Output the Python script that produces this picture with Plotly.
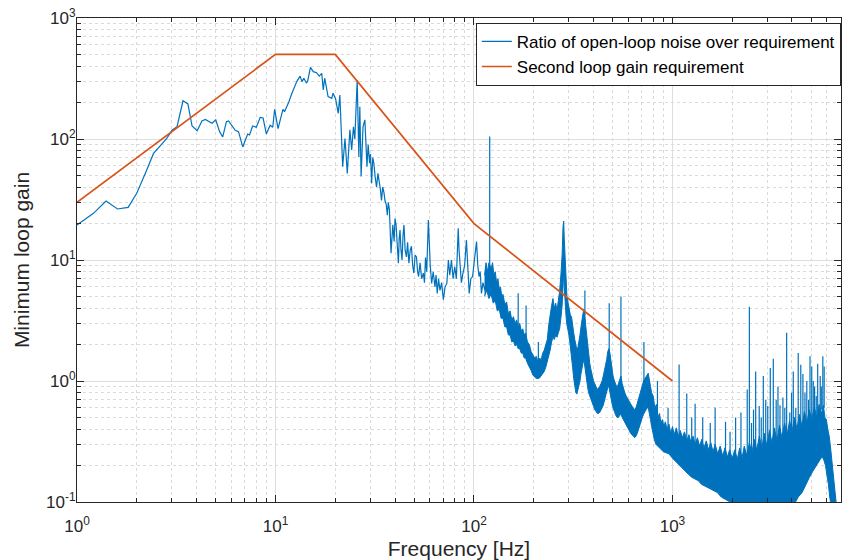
import plotly.graph_objects as go

# ---------------- data ----------------
# low-frequency part of the measured ratio (Hz, gain)
line_f = [1.0, 1.21, 1.40, 1.60, 1.81, 2.0, 2.21, 2.43, 2.82, 3.01, 3.19, 3.42, 3.62, 3.80,
          4.03, 4.26, 4.43, 4.79, 5.0, 5.23, 5.42, 5.66, 5.8, 6.27, 6.51, 6.84, 7.24, 7.4,
          7.67, 8.0, 8.38, 8.66, 8.99, 9.4, 9.69, 9.9, 10.3, 10.9, 11.1, 11.6, 12.1, 12.8,
          13.3, 13.6, 13.9, 14.3, 14.5, 15.0, 15.5, 16.1, 16.6, 17.1, 17.4, 17.7, 18.4,
          19.2, 19.5, 20.1, 20.7, 21.1, 21.8, 22.4, 23.0, 23.7, 24.2, 24.7, 25.1, 25.8,
          26.3, 26.6, 27.0, 27.6, 28.2, 28.9, 29.3, 29.8, 30.1, 30.5, 30.9, 31.3, 31.8,
          32.3, 32.8, 33.3, 33.8, 34.2, 34.7, 35.2, 35.6, 36.1, 36.6, 37.0, 37.5, 38.2,
          38.6, 39.0, 39.6, 40.0, 40.5, 41.0, 41.6, 42.0, 42.4, 42.9, 43.4, 43.9, 44.4,
          45.0, 45.7, 46.3, 47.0, 47.7, 48.4, 49.1, 49.8, 50.5, 51.3, 52.0, 52.6, 53.5,
          54.5, 55.6, 56.3, 57.0, 57.8, 58.9, 59.4, 60.2, 61.2, 62.3, 63.6, 64.4, 65.3,
          66.3, 67.4, 68.7, 70.1, 71.5, 73.0, 73.6, 74.3, 75.5, 77.0, 78.5, 80.0, 81.5,
          83.3, 84.1, 84.9, 86.4, 88.0, 89.7, 91.6, 92.9, 94.6, 96.4, 98.4, 100.5, 103.0,
          104.5, 106.0, 107.5, 109.0, 111.0, 113.5, 116.0]
line_v = [19.5, 24.3, 30.7, 26.4, 27.2, 35.6, 52, 76, 100, 118, 126, 207, 195, 128,
          117, 141, 145, 135, 144, 115, 104, 139, 141, 118, 115, 86, 110, 108,
          128, 125, 151, 149, 110, 130, 125, 176, 122, 176, 168, 197, 239, 298,
          331, 298, 318, 292, 298, 391, 360, 353, 331, 349, 254, 318, 224,
          217, 239, 213, 163, 231, 59, 101, 52, 119, 81, 126, 100, 307,
          71, 185, 49, 126, 144, 59, 90, 63, 75, 43, 70, 63, 48,
          40, 52, 46, 38, 31, 40, 36, 31, 29, 23.5, 30, 26, 11.4,
          17, 19.5, 14.2, 22, 19.5, 13, 9.4, 15, 17.7, 12, 10, 16, 19.5,
          12, 10.6, 14, 9.4, 12, 13, 9, 7.8, 11, 10.6, 8, 7.3, 9.5,
          7, 7.8, 6.5, 10.5, 8, 21.4, 13, 9, 6.4, 8, 6.0, 7.5, 5.3,
          7, 5.6, 6.5, 4.7, 6, 6.4, 8, 10, 7.5, 10, 7, 8.8, 7,
          18.3, 12, 10, 6.5, 7.8, 9, 14.6, 8, 5.3, 7, 7.3, 10, 14.2,
          9, 7.3, 8, 5.3, 6.5, 5.6, 7.5]

# dense high-frequency part: upper edge of the trace
up_f = [113, 115, 117, 119, 122, 124, 126, 128, 130, 132, 134, 136, 138, 140, 143, 146, 149,
        152, 155, 158, 161, 164, 167, 170, 173, 176, 179, 182, 186, 190, 194, 198, 202, 206,
        210, 214, 218, 222, 226, 230, 234, 238, 242, 246, 250, 254, 258, 262, 266, 270, 274,
        278, 281, 283, 285, 288, 291, 294, 298, 302, 306, 310, 314, 318, 322, 326, 330, 334,
        338, 342, 346, 350, 354, 358, 362, 366, 370, 374, 378, 383, 388, 394, 400, 406, 412,
        418, 424, 430, 436, 442, 448, 454, 460, 466, 472, 478, 484, 490, 496, 502, 510, 518,
        526, 534, 542, 550, 558, 566, 575, 585, 595, 605, 615, 625, 635, 645, 655, 665, 675,
        685, 695, 705, 715, 725, 735, 745, 755, 765, 775, 785, 800, 815, 830, 845, 860, 875,
        890, 905, 920, 940, 960, 980, 1000, 1020, 1045, 1070, 1095, 1120, 1150, 1180, 1210,
        1240, 1270, 1300, 1335, 1370, 1405, 1440, 1480, 1520, 1560, 1600, 1640, 1690, 1740,
        1790, 1840, 1890, 1940, 2000, 2060, 2120, 2180, 2240, 2300, 2370, 2440, 2510, 2580,
        2660, 2740, 2820, 2900, 2990, 3080, 3170, 3260, 3360, 3460, 3560, 3670, 3780, 3890,
        4000, 4120, 4240, 4360, 4490, 4620, 4750, 4890, 5030, 5180, 5330, 5480, 5640, 5760,
        5860, 5960, 6060, 6160, 6260, 6360, 6460, 6560, 6660, 6760, 6820]
up_v = [7.5, 9.5, 8, 9.5, 8.5, 9.5, 7.5, 8, 6.5, 7, 5.8, 6, 5, 5.2, 4.3, 4.5, 3.6,
        3.8, 3.2, 3.4, 3.0, 3.2, 2.8, 3.0, 2.6, 2.7, 2.4, 2.5, 2.1, 2.0, 1.75, 1.65, 1.55, 1.6,
        1.45, 1.55, 1.5, 1.7, 1.8, 2.0, 2.2, 2.9, 3.6, 4.2, 4.8, 4.0, 4.4, 3.8, 4.6, 5.5, 7.5,
        11, 19, 21, 15, 9, 6.5, 5, 4.4, 4.0, 3.5, 3.4, 2.8, 2.5, 2.2, 1.9, 1.8, 1.9,
        2.1, 2.4, 2.8, 3.3, 3.6, 3.9, 3.5, 2.8, 2.3, 1.9, 1.6, 1.4, 1.25, 1.1, 1.0, 0.95, 0.9,
        0.85, 0.88, 0.9, 0.95, 1.0, 1.1, 1.2, 1.35, 1.5, 1.75, 1.85, 1.7, 1.4, 1.25, 1.1, 1.0, 0.92,
        0.88, 0.95, 1.05, 1.1, 0.95, 0.85, 0.8, 0.75, 0.72, 0.68, 0.65, 0.62, 0.6, 0.58, 0.6, 0.65, 0.7,
        0.78, 0.85, 0.92, 1.0, 1.05, 1.1, 1.12, 1.16, 1.05, 0.9, 0.8, 0.75, 0.6, 0.64, 0.5, 0.54, 0.45,
        0.48, 0.42, 0.46, 0.4, 0.44, 0.37, 0.42, 0.36, 0.41, 0.35, 0.39, 0.34, 0.38, 0.32, 0.36,
        0.31, 0.35, 0.3, 0.34, 0.29, 0.33, 0.28, 0.32, 0.27, 0.31, 0.26, 0.3, 0.25, 0.29,
        0.24, 0.28, 0.235, 0.27, 0.23, 0.27, 0.225, 0.28, 0.23, 0.29, 0.24, 0.31, 0.25, 0.33,
        0.27, 0.35, 0.28, 0.37, 0.29, 0.39, 0.31, 0.41, 0.32, 0.43, 0.34, 0.45, 0.36, 0.47,
        0.38, 0.5, 0.4, 0.53, 0.42, 0.56, 0.45, 0.58, 0.48, 0.61, 0.51, 0.64, 0.54, 0.63,
        0.5, 0.48, 0.4, 0.35, 0.28, 0.22, 0.17, 0.14, 0.11, 0.09, 0.07]

# dense high-frequency part: lower edge of the trace
low_f = [113, 116, 119, 122, 125, 128, 131, 134, 137, 140, 143, 146, 149, 152, 155, 158, 161,
         164, 167, 170, 173, 176, 179, 182, 186, 190, 194, 198, 202, 206, 210, 214, 218, 222,
         226, 230, 234, 238, 242, 246, 250, 254, 258, 262, 266, 270, 274, 278, 281, 283, 285,
         288, 291, 294, 298, 302, 306, 310, 314, 318, 322, 326, 330, 334, 338, 342, 346, 350,
         354, 358, 362, 366, 370, 374, 378, 383, 388, 394, 400, 406, 412, 418, 424, 430, 436,
         442, 448, 454, 460, 466, 472, 478, 484, 490, 496, 502, 510, 518, 526, 534, 542, 550,
         558, 566, 575, 585, 595, 605, 615, 625, 635, 645, 655, 665, 675, 685, 695, 705, 715,
         725, 735, 745, 755, 765, 775, 785, 795, 810, 825, 840, 860, 880, 900, 930, 960, 1000,
         1040, 1080, 1120, 1160, 1200, 1250, 1300, 1350, 1400, 1460, 1520, 1600, 1680, 1760,
         1850, 1950, 2050, 2200, 2400, 2600, 2800, 3000, 3300, 3600, 3900, 4100, 4300, 4500,
         4700, 4900, 5100, 5300, 5450, 5600, 5700, 5800, 5900, 6000, 6100, 6200, 6300, 6450,
         6650, 6820]
low_v = [5.0, 5.6, 4.8, 5.2, 4.4, 4.6, 3.8, 3.9, 3.3, 3.3, 2.8, 2.8, 2.4, 2.4, 2.1, 2.15, 1.95,
         2.0, 1.85, 1.85, 1.7, 1.7, 1.55, 1.55, 1.4, 1.3, 1.22, 1.12, 1.08, 1.05, 1.05, 1.06, 1.1, 1.15,
         1.2, 1.3, 1.45, 1.6, 1.8, 2.1, 2.3, 2.2, 2.4, 2.3, 2.5, 2.7, 3.3, 4.2, 6, 8, 6,
         4.2, 3.4, 2.9, 2.6, 2.3, 1.9, 1.6, 1.3, 1.05, 0.9, 0.8, 0.78, 0.82, 0.9, 1.0, 1.15, 1.3,
         1.4, 1.5, 1.4, 1.2, 1.0, 0.88, 0.8, 0.74, 0.7, 0.66, 0.62, 0.58, 0.56, 0.54, 0.54, 0.55, 0.57,
         0.6, 0.63, 0.68, 0.73, 0.8, 0.88, 0.9, 0.82, 0.72, 0.65, 0.6, 0.55, 0.52, 0.5, 0.5, 0.52, 0.53,
         0.5, 0.47, 0.45, 0.43, 0.41, 0.39, 0.37, 0.36, 0.35, 0.34, 0.35, 0.37, 0.4, 0.43, 0.46, 0.5, 0.53,
         0.56, 0.58, 0.6, 0.6, 0.55, 0.48, 0.42, 0.37, 0.33, 0.3, 0.29, 0.28, 0.27, 0.26, 0.255, 0.25, 0.23,
         0.215, 0.2, 0.19, 0.18, 0.17, 0.16, 0.155, 0.15, 0.14, 0.135, 0.13, 0.125, 0.12, 0.11,
         0.105, 0.1, 0.095, 0.09, 0.085, 0.085, 0.085, 0.085, 0.085, 0.085, 0.088, 0.095, 0.11, 0.12,
         0.14, 0.16, 0.18, 0.2, 0.215, 0.23, 0.235, 0.22, 0.2, 0.17, 0.14, 0.11, 0.09, 0.07,
         0.055, 0.05]

# narrow spectral lines: frequency, level at their foot, peak level
spike_f = [120, 167, 183, 211, 362, 480, 550, 718, 840, 950, 1080, 1180, 1250, 1300, 1420,
           1550, 1640, 1850, 1950, 2080, 2213, 2380, 2440, 2500, 2560, 2625, 2735, 2800,
           2868, 2950, 3020, 3110, 3220, 3330, 3400, 3480, 3600, 3680, 3760, 3900, 3980,
           4060, 4180, 4300, 4430, 4540, 4650, 4750, 4850, 4930, 5030, 5120, 5200, 5300,
           5390, 5550, 5620, 5720, 5810]
spike_base = [8, 2.8, 2.3, 1.45, 3.5, 1.6, 1.0, 0.85, 0.45, 0.4, 0.34, 0.32, 0.3, 0.3, 0.28,
              0.26, 0.26, 0.24, 0.23, 0.23, 0.23, 0.24, 0.25, 0.26, 0.27, 0.27, 0.28, 0.29,
              0.29, 0.3, 0.3, 0.31, 0.32, 0.33, 0.33, 0.34, 0.35, 0.36, 0.37, 0.38, 0.39,
              0.4, 0.41, 0.42, 0.43, 0.44, 0.45, 0.46, 0.48, 0.49, 0.5, 0.51, 0.52, 0.53,
              0.55, 0.57, 0.58, 0.59, 0.6]
spike_top = [105, 5.3, 4.2, 2.1, 5.6, 4.4, 5.0, 2.1, 1.0, 0.6, 1.37, 0.79, 0.5, 0.65, 0.5,
             0.45, 0.6, 0.46, 0.38, 0.5, 0.55, 0.85, 4.1, 0.45, 0.58, 1.2, 0.62, 0.5,
             1.1, 0.7, 0.62, 1.28, 1.53, 0.7, 0.9, 0.63, 0.73, 0.6, 2.5, 0.55, 0.8,
             1.2, 0.6, 1.7, 1.36, 1.14, 0.8, 1.0, 0.7, 1.6, 1.32, 1.0, 0.9, 0.75,
             1.39, 1.1, 0.9, 1.6, 1.32]

# second loop-gain requirement (piecewise straight in log-log)
req_f = [1, 10, 20, 100, 1000]
req_v = [30, 500, 500, 20, 1]

x_tickvals = [1, 10, 100, 1000]
x_ticktext = ["10<sup>0</sup>", "10<sup>1</sup>", "10<sup>2</sup>", "10<sup>3</sup>"]
y_tickvals = [0.1, 1, 10, 100, 1000]
y_ticktext = ["10<sup>-1</sup>", "10<sup>0</sup>", "10<sup>1</sup>", "10<sup>2</sup>", "10<sup>3</sup>"]

BLUE = "#0072BD"
ORANGE = "#D95319"
AXC = "#262626"
FONT = "Liberation Sans"

# ---------------- figure ----------------
fig = go.Figure()

# filled band of the dense spectrum
fig.add_trace(go.Scatter(
    x=up_f + low_f[::-1], y=up_v + low_v[::-1],
    mode="lines", fill="toself", fillcolor=BLUE,
    line=dict(color=BLUE, width=1), showlegend=False, hoverinfo="skip"))

# spectral lines
sx, sy = [], []
for f, b, t in zip(spike_f, spike_base, spike_top):
    sx += [f, f, None]
    sy += [b, t, None]
fig.add_trace(go.Scatter(x=sx, y=sy, mode="lines", line=dict(color=BLUE, width=1.2),
                         showlegend=False, hoverinfo="skip"))

fig.add_trace(go.Scatter(x=line_f, y=line_v, mode="lines",
                         line=dict(color=BLUE, width=1.2),
                         name="Ratio of open-loop noise over requirement"))

fig.add_trace(go.Scatter(x=req_f, y=req_v, mode="lines",
                         line=dict(color=ORANGE, width=1.7),
                         name="Second loop gain requirement"))

x_minor = [m * 10 ** e for e in range(0, 4) for m in range(2, 10)]
y_minor = [m * 10.0 ** e for e in range(-1, 3) for m in range(2, 10)]

common = dict(
    showline=True, linecolor=AXC, linewidth=1, mirror="ticks",
    ticks="inside", ticklen=7, tickwidth=1, tickcolor=AXC,
    showgrid=True, gridcolor="#dedede", gridwidth=1, zeroline=False,
    tickfont=dict(family=FONT, size=17, color=AXC), automargin=False,
    ticklabeloverflow="allow",
)

fig.update_xaxes(
    type="log", range=[0, 3.849], tickmode="array",
    tickvals=x_tickvals, ticktext=x_ticktext,
    minor=dict(tickmode="array", tickvals=x_minor, ticks="inside", ticklen=4,
               tickcolor=AXC, showgrid=True, gridcolor="#dadada", griddash="dot"),
    title=dict(text="Frequency [Hz]", font=dict(family=FONT, size=21, color=AXC), standoff=6),
    ticklabelstandoff=9,
    **common)
fig.update_yaxes(
    type="log", range=[-1, 3], tickmode="array",
    tickvals=y_tickvals, ticktext=y_ticktext,
    minor=dict(tickmode="array", tickvals=y_minor, ticks="inside", ticklen=4,
               tickcolor=AXC, showgrid=True, gridcolor="#dadada", griddash="dot"),
    title=dict(text="Minimum loop gain", font=dict(family=FONT, size=21, color=AXC), standoff=10),
    ticklabelstandoff=-3,
    **common)

fig.update_layout(
    width=842, height=560,
    margin=dict(l=77, r=1, t=18, b=58),
    paper_bgcolor="white", plot_bgcolor="white",
    font=dict(family=FONT, color=AXC),
    legend=dict(x=0.522, y=0.99, xanchor="left", yanchor="top",
                bgcolor="white", bordercolor=AXC, borderwidth=1,
                font=dict(family=FONT, size=17, color="black"),
                itemwidth=30, tracegroupgap=0),
)

# remove the default page margin so the 842x560 figure fills the window exactly
fig.write_html("out.html",
               config={"displayModeBar": False},
               post_script="document.body.style.margin='0px';document.body.style.overflow='hidden';")
